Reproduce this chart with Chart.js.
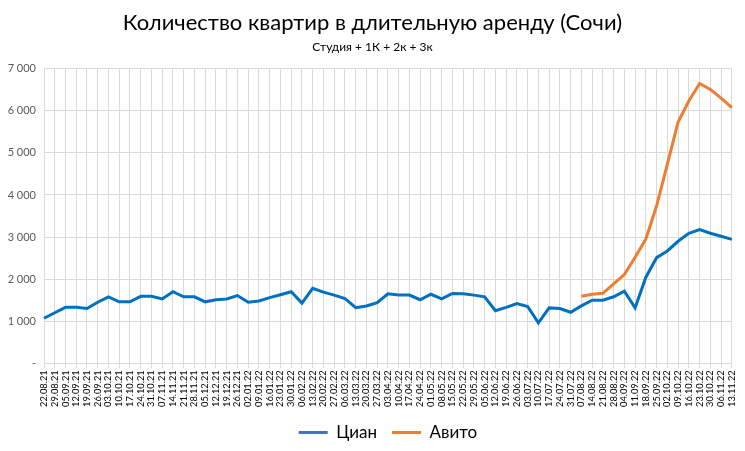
<!DOCTYPE html>
<html><head><meta charset="utf-8">
<script src="https://cdn.jsdelivr.net/npm/chart.js@4.4.1/dist/chart.umd.min.js"></script>
<style>html,body{margin:0;padding:0;background:#fff}#wrap{width:745px;height:451px}</style>
</head><body><div id="wrap"><canvas id="c"></canvas></div>
<script>
const labels = ["22.08.21","29.08.21","05.09.21","12.09.21","19.09.21","26.09.21","03.10.21","10.10.21","17.10.21","24.10.21","31.10.21","07.11.21","14.11.21","21.11.21","28.11.21","05.12.21","12.12.21","19.12.21","26.12.21","02.01.22","09.01.22","16.01.22","23.01.22","30.01.22","06.02.22","13.02.22","20.02.22","27.02.22","06.03.22","13.03.22","20.03.22","27.03.22","03.04.22","10.04.22","17.04.22","24.04.22","01.05.22","08.05.22","15.05.22","22.05.22","29.05.22","05.06.22","12.06.22","19.06.22","26.06.22","03.07.22","10.07.22","17.07.22","24.07.22","31.07.22","07.08.22","14.08.22","21.08.22","28.08.22","04.09.22","11.09.22","18.09.22","25.09.22","02.10.22","09.10.22","16.10.22","23.10.22","30.10.22","06.11.22","13.11.22"];
const cian = [1070,1200,1330,1330,1300,1450,1580,1460,1460,1590,1590,1530,1700,1580,1580,1460,1510,1530,1610,1450,1480,1560,1630,1700,1430,1780,1690,1620,1540,1320,1360,1440,1650,1620,1620,1510,1640,1530,1660,1650,1620,1580,1250,1330,1420,1350,960,1316,1300,1213,1364,1500,1500,1580,1715,1316,2047,2510,2670,2900,3090,3180,3090,3020,2945];
const avito = [null,null,null,null,null,null,null,null,null,null,null,null,null,null,null,null,null,null,null,null,null,null,null,null,null,null,null,null,null,null,null,null,null,null,null,null,null,null,null,null,null,null,null,null,null,null,null,null,null,null,1593,1640,1664,1885,2107,2518,2953,3743,4731,5735,6233,6652,6510,6304,6075];
const yTicks = [0,1000,2000,3000,4000,5000,6000,7000];
const legendColors = ['#4472C4', '#ED7D31'];
const FONT = "Lato, 'Open Sans', sans-serif";
Chart.defaults.font.family = FONT;
new Chart(document.getElementById('c'), {
  type: 'line',
  data: { labels: labels, datasets: [
    { label: 'Циан', data: cian, borderColor: '#0070C0', backgroundColor: '#0070C0', borderWidth: 3, pointRadius: 0, tension: 0 },
    { label: 'Авито', data: avito, borderColor: '#ED7D31', backgroundColor: '#ED7D31', borderWidth: 3, pointRadius: 0, tension: 0, spanGaps: false }
  ]},
  options: {
    responsive: true, maintainAspectRatio: false, animation: false,
    layout: { padding: { left: 6, right: 6, top: 10, bottom: 0 } },
    plugins: {
      title: { display: true, text: 'Количество квартир в длительную аренду (Сочи)', color: '#000', font: { size: 22, weight: 'normal', family: FONT }, padding: { top: 0, bottom: 4 } },
      subtitle: { display: true, text: 'Студия + 1К + 2к + 3к', color: '#000', font: { size: 12, family: FONT }, padding: { bottom: 14 } },
      legend: { position: 'bottom', fullSize: false,
        labels: { color: '#000', font: { size: 17, family: FONT }, boxWidth: 29, boxHeight: 3, padding: 15,
          generateLabels: (chart) => Chart.defaults.plugins.legend.labels.generateLabels(chart).map((it, i) => Object.assign(it, { fillStyle: legendColors[i], strokeStyle: legendColors[i], lineWidth: 0 })) } },
      tooltip: { enabled: false }
    },
    scales: {
      x: {
        offset: false,
        grid: { color: '#d9d9d9', drawTicks: true, tickLength: 5 },
        border: { color: '#d9d9d9' },
        ticks: { color: '#000', font: { size: 9.3, family: FONT }, maxRotation: 90, minRotation: 90, autoSkip: false, padding: 2 }
      },
      y: {
        min: 0, max: 7000,
        afterBuildTicks: (s) => { s.ticks = yTicks.map(v => ({ value: v })); },
        afterFit: (s) => { s.width = 38; },
        grid: { color: '#d9d9d9', drawTicks: false },
        border: { display: false },
        ticks: { color: '#595959', font: { size: 11, family: FONT }, padding: 8,
          callback: (v) => v === 0 ? '-' : String(v).replace(/\B(?=(\d{3})+(?!\d))/g, ' ') }
      },
      y2: {
        position: 'right', min: 0, max: 7000,
        afterFit: (s) => { s.width = 6; },
        grid: { display: false, drawTicks: false },
        border: { display: false },
        ticks: { display: false }
      }
    }
  }
});
</script></body></html>
